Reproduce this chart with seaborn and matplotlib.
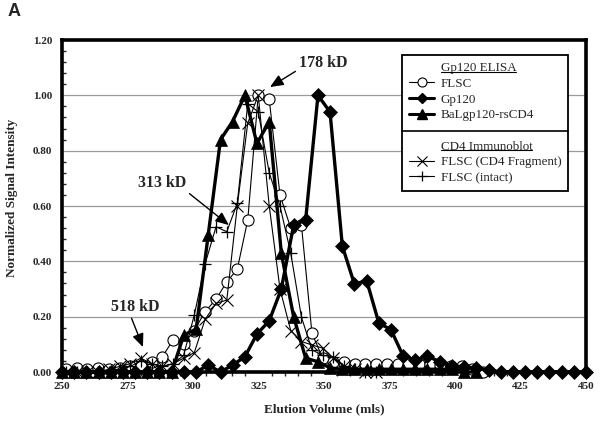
import numpy as np
import pandas as pd
import matplotlib
matplotlib.use("Agg")
import matplotlib.pyplot as plt
import seaborn as sns
from matplotlib.lines import Line2D
from matplotlib.ticker import MultipleLocator, FormatStrFormatter

# ---------------- data ----------------
# ELISA fractions for Gp120 / BaLgp120-rsCD4
elisa_x = [250.0, 254.7, 259.3, 264.0, 268.6, 273.3, 277.9, 282.6, 287.2, 291.9,
           296.5, 301.2, 305.8, 310.5, 315.1, 319.8, 324.4, 329.1, 333.7, 338.4,
           343.0, 347.7, 352.3, 357.0, 361.6, 366.3, 370.9, 375.6, 380.2, 384.9,
           389.5, 394.2, 398.8, 403.5, 408.1, 412.8, 417.4, 422.1, 426.7, 431.4,
           436.0, 440.7, 445.3, 450.0]
gp120_y = [0.0, 0.0, 0.0, 0.0, 0.0, 0.0, 0.0, 0.0, 0.0, 0.0,
           0.0, 0.0, 0.025, 0.0, 0.025, 0.055, 0.137, 0.185, 0.30, 0.53,
           0.55, 1.00, 0.94, 0.455, 0.318, 0.33, 0.178, 0.152, 0.058, 0.043,
           0.058, 0.037, 0.022, 0.019, 0.014, 0.007, 0.0, 0.0, 0.0, 0.0,
           0.0, 0.0, 0.0, 0.0]
bal_x = elisa_x[:35]
bal_y = [0.0, 0.0, 0.0, 0.0, 0.0, 0.0, 0.0, 0.0, 0.0, 0.0,
         0.134, 0.155, 0.495, 0.84, 0.905, 1.00, 0.826, 0.905, 0.43, 0.20,
         0.05, 0.037, 0.015, 0.01, 0.01, 0.01, 0.01, 0.01, 0.01, 0.01,
         0.01, 0.01, 0.01, 0.0, 0.0]

# FLSC fractions (ELISA circles and immunoblot)
flsc_x = [251.6, 255.6, 259.7, 263.8, 267.9, 272.0, 276.0, 280.1, 284.2, 288.3,
          292.4, 296.4, 300.5, 304.6, 308.8, 312.9, 316.9, 320.9, 324.9, 329.1,
          333.2, 337.3, 341.4, 345.4, 349.5, 353.6, 357.7, 361.8, 365.8, 369.9,
          374.0, 378.1, 382.2, 386.2, 390.3, 394.4, 398.5, 402.6, 406.6, 410.7]
flsc_y = [0.01, 0.015, 0.01, 0.015, 0.01, 0.015, 0.02, 0.02, 0.037, 0.055,
          0.116, 0.10, 0.15, 0.218, 0.263, 0.326, 0.371, 0.55, 1.00, 0.985,
          0.64, 0.52, 0.53, 0.14, 0.05, 0.037, 0.035, 0.03, 0.03, 0.03,
          0.03, 0.03, 0.03, 0.03, 0.03, 0.025, 0.02, 0.02, 0.01, 0.0]
frag_x = flsc_x[:30]
frag_y = [0.0, 0.0, 0.0, 0.0, 0.01, 0.02, 0.03, 0.05, 0.03, 0.02,
          0.03, 0.05, 0.07, 0.19, 0.248, 0.26, 0.60, 0.90, 1.00, 0.60,
          0.30, 0.15, 0.11, 0.098, 0.086, 0.05, 0.02, 0.01, 0.0, 0.0]
intact_x = flsc_x[:30]
intact_y = [0.0, 0.0, 0.0, 0.0, 0.0, 0.01, 0.02, 0.04, 0.03, 0.02,
            0.03, 0.06, 0.206, 0.39, 0.525, 0.507, 0.61, 0.97, 0.94, 0.72,
            0.60, 0.43, 0.198, 0.08, 0.06, 0.055, 0.02, 0.01, 0.0, 0.0]

x_ticks = [250, 275, 300, 325, 350, 375, 400, 425, 450]
y_ticks = [0.0, 0.2, 0.4, 0.6, 0.8, 1.0, 1.2]

# ---------------- style ----------------
sns.set_style("white")
plt.rcParams['font.family'] = ['Liberation Serif', 'DejaVu Serif']

W, H = 604, 423
fig = plt.figure(figsize=(W / 100, H / 100), dpi=100)
ax = fig.add_axes([62 / W, 1 - 372 / H, (586 - 62) / W, (372 - 40) / H])

base = dict(ax=ax, color='black', markeredgecolor='black', clip_on=False,
            legend=False, sort=False)
sns.lineplot(x=flsc_x, y=flsc_y, marker='o', markersize=8, markerfacecolor='white',
             linewidth=0.8, markeredgewidth=0.8, zorder=3, **base)
sns.lineplot(x=frag_x, y=frag_y, marker='x', markersize=8, linewidth=0.8,
             markeredgewidth=0.8, zorder=3, **base)
sns.lineplot(x=intact_x, y=intact_y, marker='+', markersize=9, linewidth=0.8,
             markeredgewidth=0.9, zorder=3, **base)
sns.lineplot(x=bal_x, y=bal_y, marker='^', markersize=8, linewidth=2.4,
             markeredgewidth=0.5, zorder=4, **base)
sns.lineplot(x=elisa_x, y=gp120_y, marker='D', markersize=7, linewidth=2.4,
             markeredgewidth=0.5, zorder=5, **base)

ax.set_xlim(250, 450)
ax.set_ylim(0, 1.2)
ax.set_xticks(x_ticks)
ax.set_yticks(y_ticks)
ax.yaxis.set_major_formatter(FormatStrFormatter('%.2f'))
ax.yaxis.set_minor_locator(MultipleLocator(0.04))
ax.xaxis.set_minor_locator(MultipleLocator(5))
for lab in ax.get_xticklabels() + ax.get_yticklabels():
    lab.set_fontweight('bold')
    lab.set_fontsize(8)
ax.tick_params(axis='both', which='major', direction='out', length=4, width=1,
               color='black', pad=3)
ax.tick_params(axis='y', which='minor', direction='in', length=3, width=1, left=True)
ax.tick_params(axis='x', which='minor', direction='out', length=3, width=1, bottom=True)
for sp in ax.spines.values():
    sp.set_visible(True)
    sp.set_color('black')
    sp.set_linewidth(2.6)
ax.grid(False)
for gy in y_ticks[1:-1]:
    ax.axhline(gy, color='#9a9a9a', linewidth=0.9, zorder=0)

ax.set_xlabel('Elution Volume (mls)', fontsize=9.5, fontweight='bold')
ax.set_ylabel('Normalized Signal Intensity', fontsize=9.5, fontweight='bold')
ax.xaxis.set_label_coords(0.501, -0.095)
ax.yaxis.set_label_coords(-0.084, 0.525)

arrow = dict(arrowstyle='-|>,head_length=0.7,head_width=0.3', color='black', lw=1,
             shrinkA=0, shrinkB=0)
ax.annotate('178 kD', xy=(329.4, 1.03), xytext=(349.6, 1.117), ha='center', va='center',
            fontsize=11.5, fontweight='bold',
            arrowprops=dict(arrow, relpos=(0.0, 0.1)))
ax.annotate('313 kD', xy=(313.7, 0.531), xytext=(288.2, 0.683), ha='center', va='center',
            fontsize=11.5, fontweight='bold',
            arrowprops=dict(arrow, relpos=(1.0, 0.0)))
ax.annotate('518 kD', xy=(280.9, 0.09), xytext=(277.9, 0.235), ha='center', va='center',
            fontsize=11.5, fontweight='bold',
            arrowprops=dict(arrow, relpos=(0.4, 0.0)))

fig.text(8 / W, 1 - 12 / H, 'A', fontsize=13, fontweight='bold',
         family=['Liberation Sans', 'DejaVu Sans'], va='center', ha='left')

# ---------------- legend ----------------
blank = Line2D([], [], linestyle='none')
h_flsc = Line2D([], [], color='black', lw=0.8, marker='o', markersize=6.5,
                markerfacecolor='white', markeredgecolor='black', markeredgewidth=0.8)
h_gp = Line2D([], [], color='black', lw=2.2, marker='D', markersize=5.5,
              markerfacecolor='black', markeredgecolor='black')
h_bal = Line2D([], [], color='black', lw=2.2, marker='^', markersize=6.5,
               markerfacecolor='black', markeredgecolor='black')
h_frag = Line2D([], [], color='black', lw=0.8, marker='x', markersize=6.5,
                markeredgecolor='black', markeredgewidth=0.8)
h_int = Line2D([], [], color='black', lw=0.8, marker='+', markersize=7.5,
               markeredgecolor='black', markeredgewidth=0.9)
handles = [blank, h_flsc, h_gp, h_bal, blank, blank, h_frag, h_int]
labels = ['Gp120 ELISA', 'FLSC', 'Gp120', 'BaLgp120-rsCD4', ' ', 'CD4 Immunoblot',
          'FLSC (CD4 Fragment)', 'FLSC (intact)']
leg = ax.legend(handles, labels, loc='upper left', bbox_to_anchor=(402 / W, 1 - 55 / H),
                bbox_transform=fig.transFigure, frameon=True, fancybox=False,
                edgecolor='black', framealpha=1, fontsize=9.4, handlelength=1.9,
                handletextpad=0.5, labelspacing=0.27, borderpad=0.55, borderaxespad=0)
leg.get_frame().set_linewidth(1.3)

fig.canvas.draw()
r = fig.canvas.get_renderer()
texts = leg.get_texts()
for i in (0, 5):
    bb = texts[i].get_window_extent(r)
    fig.add_artist(Line2D([bb.x0 / W, bb.x1 / W], [(bb.y0 + 2.5) / H] * 2,
                          color='black', lw=0.8, transform=fig.transFigure))
fb = leg.get_frame().get_window_extent(r)
b3 = texts[3].get_window_extent(r)
b5 = texts[5].get_window_extent(r)
ymid = (b3.y0 + b5.y1) / 2
fig.add_artist(Line2D([fb.x0 / W, fb.x1 / W], [ymid / H] * 2, color='black', lw=1.2,
                      transform=fig.transFigure, zorder=10))

fig.savefig('out.png', dpi=100)
